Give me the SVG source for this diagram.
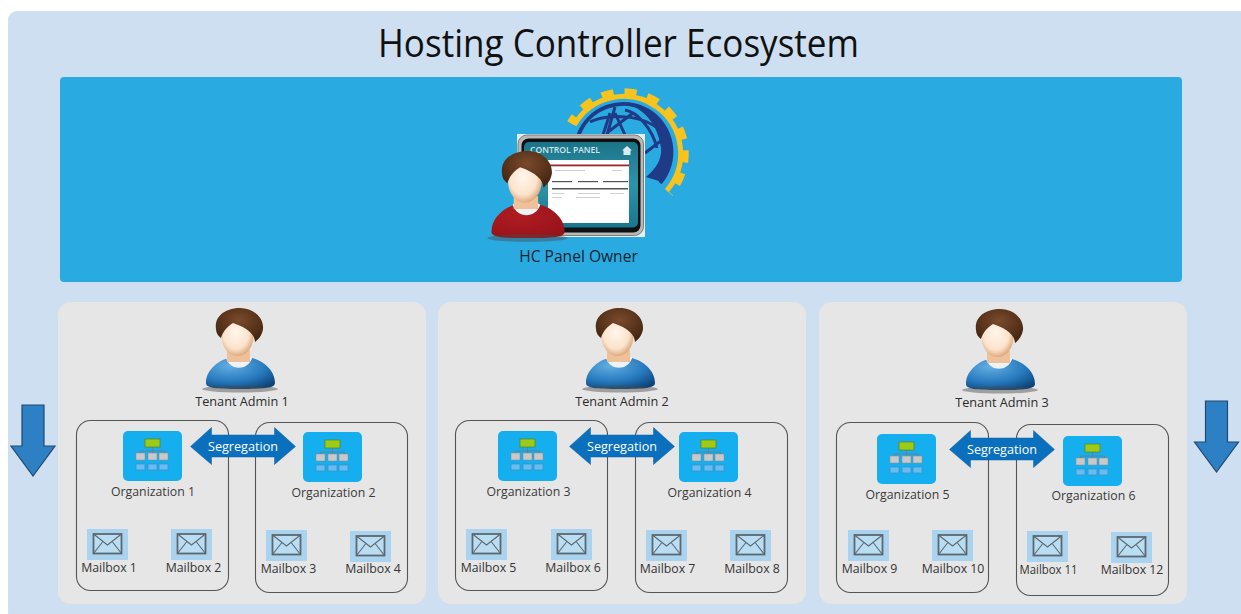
<svg xmlns="http://www.w3.org/2000/svg" width="1241" height="614" viewBox="0 0 1241 614">
<style>
text{font-family:"Open Sans","Noto Sans","Liberation Sans",sans-serif;fill:#2b2b2b;text-anchor:middle}
.title{font-size:38px;fill:#111}
.owner{font-size:15.6px;fill:#12232f}
.tn{font-size:12.7px}
.org{font-size:12.3px;fill:#3a3a3a}
.mb{font-size:12.3px;fill:#333}
.seg{font-size:13.5px;fill:#fff}
.panel{fill:#e6e6e6}
.box{fill:none;stroke:#555;stroke-width:1.1}
.seg-arrow{fill:#0a70bd;stroke:#0a5ea3;stroke-width:.5}
.down{fill:#2e80c4;stroke:#24486b;stroke-width:1.2}
</style>
<defs>
<radialGradient id="skin" cx=".45" cy=".42" r=".62"><stop offset="0" stop-color="#fff6ec"/><stop offset=".65" stop-color="#fbe3cb"/><stop offset="1" stop-color="#d99f70"/></radialGradient>
<radialGradient id="hairG" cx=".5" cy=".35" r=".7"><stop offset="0" stop-color="#7a4a2c"/><stop offset="1" stop-color="#40230f"/></radialGradient>
<radialGradient id="blueB" cx=".35" cy=".25" r=".85"><stop offset="0" stop-color="#63aee2"/><stop offset=".6" stop-color="#2679bd"/><stop offset="1" stop-color="#0c4379"/></radialGradient>
<radialGradient id="redB" cx=".4" cy=".3" r=".8"><stop offset="0" stop-color="#b01c22"/><stop offset="1" stop-color="#96121a"/></radialGradient>
<linearGradient id="teal" x1="0" y1="0" x2="0" y2="1"><stop offset="0" stop-color="#1b7488"/><stop offset=".5" stop-color="#2e93a9"/><stop offset="1" stop-color="#17768e"/></linearGradient>
<g id="head">
<ellipse cx="0" cy="81" rx="38" ry="3.500" fill="#4a4a4a" opacity=".45"/>
<path d="M-13,42H10V54H-13Z" fill="#eec19a"/>
<ellipse cx="-2.500" cy="28" rx="16" ry="20" fill="url(#skin)"/>
<path d="M-24,21C-26,8-14,0 0,0C14,0 24,10 23,21C22,27 19,31 15,34C15,27 8,20-7,15C-12,18-17,23-19,30C-22,28-24,25-24,21Z" fill="url(#hairG)"/>
</g>
<path id="torso" d="M-34,75C-34,62-22,53-12,50C-8,60 8,60 12,50C23,53 35,62 35,75C35,80 25,81 0,81C-25,81-34,80-34,75Z"/>
<path id="collar" d="M-14,50C-10,63 8,63 12,50L9,48C6,56-8,56-11,48Z" fill="#eef3f7"/>
<g id="tenant"><use href="#torso" fill="url(#blueB)"/><use href="#collar"/><use href="#head"/></g>
<g id="orgicon">
<rect width="59" height="50" rx="5" fill="#15aeef"/>
<path d="M29.500,16V20M17.500,25V20H41.500V25M29.500,20V25" fill="none" stroke="#6b7d88" stroke-width=".9"/>
<rect x="22" y="8" width="15" height="8" fill="#9ccb1a" stroke="#5f7f10" stroke-width=".7"/>
<g fill="#c9c9c9" stroke="#8a8f94" stroke-width=".6"><rect x="13" y="22" width="9" height="7"/><rect x="25" y="22" width="9" height="7"/><rect x="36" y="22" width="9" height="7"/></g>
<g fill="#67bdf0" stroke="#3d93c9" stroke-width=".8"><rect x="13" y="33" width="9" height="6"/><rect x="25" y="33" width="9" height="6"/><rect x="36" y="33" width="9" height="6"/></g>
</g>
<g id="mail">
<rect width="41" height="31" fill="#a9d3ee"/>
<rect x="6.500" y="5" width="28" height="19.500" fill="#b9def3" stroke="#5f666c" stroke-width="1.800"/>
<path d="M6.500,5L20.500,16L34.500,5M6.500,24.500L15.500,13M34.500,24.500L25.500,13" fill="none" stroke="#5f666c" stroke-width="1.100"/>
</g>
<path id="seg" d="M0,19L21,0V7.500H84V0L105,19L84,37V29.500H21V37Z"/>
<path id="down" d="M11,0H33V41H44L22,71L0,41H11Z"/>
</defs>

<rect x="8" y="11" width="1240" height="610" rx="9" fill="#cddff0"/>
<text class="title" x="618.500" y="57" textLength="481" lengthAdjust="spacingAndGlyphs">Hosting Controller Ecosystem</text>

<g id="owner">
<rect x="60" y="77" width="1122" height="205" rx="4" fill="#29abe2"/>
<path d="M574.200,125.100A57,57 0 1 1 666.800,190.700" fill="none" stroke="#f7c31c" stroke-width="5"/>
<path d="M570.700,123.200A61,61 0 1 1 669.800,193.300" fill="none" stroke="#f7c31c" stroke-width="8" stroke-dasharray="12 11" stroke-dashoffset="4"/>
<path d="M578.500,135A48,48 0 1 1 660,183" fill="none" stroke="#1f3b88" stroke-width="4"/>
<path d="M628,104A49,49 0 0 1 662,182L646,177C657,168 662,158 661,148C658,125 645,110 628,104Z" fill="#1f3b88"/>
<path d="M610,113L603,135M615,107L607,135M633,113L608,132M615,113L625,135M625,110C637,112 652,128 657,148M590,122C605,114 645,112 665,135M645,153L662,140" fill="none" stroke="#1f3b88" stroke-width="3"/>
<rect x="517" y="134" width="128" height="103" fill="#e8eef2"/>
<rect x="518" y="135" width="125.500" height="100.500" rx="9" fill="#b9b9b9" stroke="#7d7d7d"/>
<rect x="521.500" y="138.500" width="119" height="94" rx="7" fill="#101010"/>
<rect x="524" y="142" width="114" height="85.500" rx="5" fill="url(#teal)"/>
<rect x="548" y="160" width="81" height="63" fill="#fff"/>
<rect x="548" y="164.500" width="81" height="1.800" fill="#a4222a"/>
<g fill="#555"><rect x="552" y="181" width="20" height="1.200"/><rect x="578" y="181" width="20" height="1.200"/><rect x="603" y="181" width="25" height="1.200"/><rect x="552" y="188" width="76" height="1.500"/></g>
<g fill="#cfcfcf"><rect x="552" y="193" width="12" height="1"/><rect x="578" y="193" width="22" height="1"/><rect x="610" y="193" width="14" height="1"/><rect x="552" y="197" width="10" height="1"/><rect x="576" y="197" width="24" height="1"/><rect x="555" y="170" width="30" height="1"/><rect x="612" y="170" width="10" height="1"/></g>
<text x="565" y="153" textLength="70" lengthAdjust="spacingAndGlyphs" style="font-size:8.500px;fill:#d3e6ec;font-weight:600">CONTROL PANEL</text>
<path d="M622,150.500L627,146L632,150.500H630.500V155H623.500V150.500Z" fill="#dbeaf0"/>
<g transform="translate(527.500,151) scale(1.060,1.075)"><use href="#torso" fill="url(#redB)"/><use href="#collar"/><use href="#head"/></g>
<text class="owner" x="578.500" y="262">HC Panel Owner</text>
</g>

<g id="tenant-panel-1">
<rect class="panel" x="58" y="302" width="368" height="302" rx="13"/>
<use href="#tenant" x="240" y="308"/>
<text class="tn" x="242" y="406">Tenant Admin 1</text>
</g>
<g id="tenant-panel-2">
<rect class="panel" x="438" y="302" width="368" height="302" rx="13"/>
<use href="#tenant" x="620" y="308"/>
<text class="tn" x="622" y="406">Tenant Admin 2</text>
</g>
<g id="tenant-panel-3">
<rect class="panel" x="819" y="302" width="368" height="302" rx="13"/>
<use href="#tenant" x="1000" y="309"/>
<text class="tn" x="1002" y="407">Tenant Admin 3</text>
</g>

<g id="org-1"><rect class="box" x="76.500" y="420.500" width="152" height="170" rx="14"/><use href="#orgicon" x="123" y="431"/><text class="org" x="153" y="496">Organization 1</text></g>
<g id="org-2"><rect class="box" x="255.500" y="422.500" width="152" height="170" rx="14"/><use href="#orgicon" x="303" y="432"/><text class="org" x="333.500" y="497">Organization 2</text></g>
<g id="org-3"><rect class="box" x="455.500" y="420.500" width="152" height="170" rx="14"/><use href="#orgicon" x="498" y="431"/><text class="org" x="528.500" y="496">Organization 3</text></g>
<g id="org-4"><rect class="box" x="635.500" y="422.500" width="152" height="170" rx="14"/><use href="#orgicon" x="679" y="432"/><text class="org" x="709.500" y="497">Organization 4</text></g>
<g id="org-5"><rect class="box" x="836.500" y="422.500" width="152" height="170" rx="14"/><use href="#orgicon" x="877" y="434"/><text class="org" x="907.500" y="499">Organization 5</text></g>
<g id="org-6"><rect class="box" x="1016.500" y="424.500" width="152" height="171" rx="14"/><use href="#orgicon" x="1063" y="436"/><text class="org" x="1093.500" y="500">Organization 6</text></g>

<g id="mailbox-1"><use href="#mail" x="87" y="529"/><text class="mb" x="109" y="572">Mailbox 1</text></g>
<g id="mailbox-2"><use href="#mail" x="171" y="529"/><text class="mb" x="193.500" y="572">Mailbox 2</text></g>
<g id="mailbox-3"><use href="#mail" x="266" y="530"/><text class="mb" x="288.500" y="573">Mailbox 3</text></g>
<g id="mailbox-4"><use href="#mail" x="350" y="531"/><text class="mb" x="373" y="573">Mailbox 4</text></g>
<g id="mailbox-5"><use href="#mail" x="466" y="529"/><text class="mb" x="488.500" y="572">Mailbox 5</text></g>
<g id="mailbox-6"><use href="#mail" x="551" y="529"/><text class="mb" x="573" y="572">Mailbox 6</text></g>
<g id="mailbox-7"><use href="#mail" x="646" y="530"/><text class="mb" x="667.500" y="573">Mailbox 7</text></g>
<g id="mailbox-8"><use href="#mail" x="730" y="530"/><text class="mb" x="752" y="573">Mailbox 8</text></g>
<g id="mailbox-9"><use href="#mail" x="848" y="530"/><text class="mb" x="869.500" y="573">Mailbox 9</text></g>
<g id="mailbox-10"><use href="#mail" x="932" y="530"/><text class="mb" x="953" y="573">Mailbox 10</text></g>
<g id="mailbox-11"><use href="#mail" x="1027" y="531"/><text class="mb" x="1048.500" y="574" textLength="58" lengthAdjust="spacingAndGlyphs">Mailbox 11</text></g>
<g id="mailbox-12"><use href="#mail" x="1111" y="532"/><text class="mb" x="1132" y="574">Mailbox 12</text></g>

<g id="connectors">
<use href="#seg" class="seg-arrow" x="190.500" y="427.500"/>
<use href="#seg" class="seg-arrow" x="569.500" y="427.500"/>
<use href="#seg" class="seg-arrow" x="949.500" y="430.500"/>
<use href="#down" class="down" x="11" y="405"/>
<use href="#down" class="down" x="1194.500" y="401"/>
</g>
<g id="connector-labels">
<text class="seg" x="243" y="451" textLength="70" lengthAdjust="spacingAndGlyphs">Segregation</text>
<text class="seg" x="622" y="451" textLength="70" lengthAdjust="spacingAndGlyphs">Segregation</text>
<text class="seg" x="1002" y="454" textLength="70" lengthAdjust="spacingAndGlyphs">Segregation</text>
</g>
</svg>
